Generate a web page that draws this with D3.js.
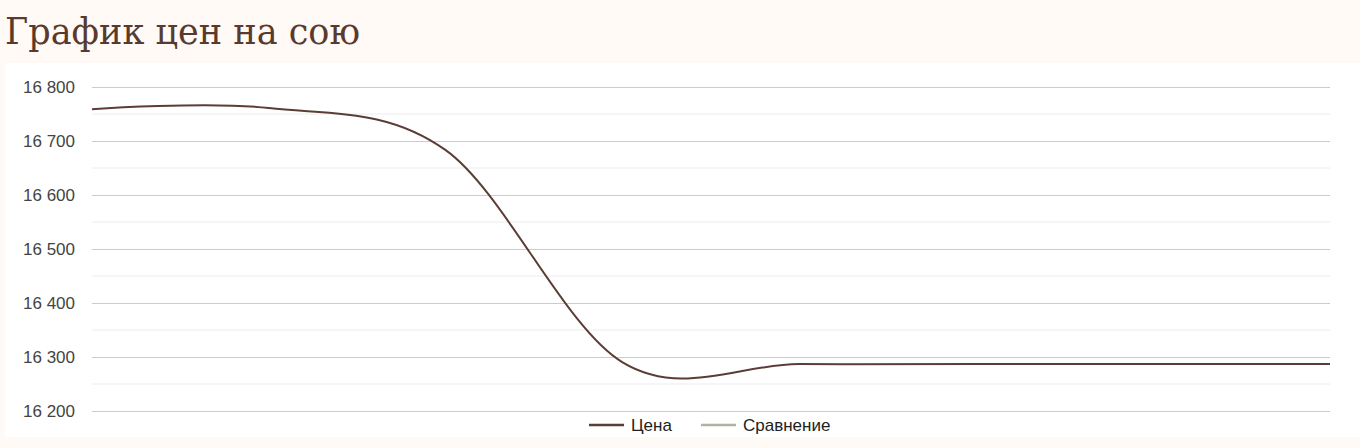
<!DOCTYPE html>
<html>
<head>
<meta charset="utf-8">
<title>График цен на сою</title>
<script src="https://cdn.jsdelivr.net/npm/d3@7"></script>
<style>
  body { margin: 0; background: #fffaf6; }
  svg { display: block; }
</style>
</head>
<body>
<script>
// data
var categories = [0, 1, 2, 3, 4, 5, 6, 7];
var price = [16759, 16761, 16683, 16290, 16287, 16287, 16287, 16287];
var yTicks = [16200, 16300, 16400, 16500, 16600, 16700, 16800];
var yMinor = [16250, 16350, 16450, 16550, 16650, 16750];
var seriesNames = ["Цена", "Сравнение"];
var seriesColors = ["#5c3d36", "#b0b3a0"];

var w = 1360, h = 448;
var margin = {top: 87, right: 30, bottom: 37, left: 92};

var svg = d3.select("body").append("svg")
  .attr("width", w)
  .attr("height", h);

// title
var title = svg.append("text")
  .attr("x", 5)
  .attr("y", 44)
  .attr("fill", "#5a3a2e")
  .style("font-family", "'Roboto Slab', 'DejaVu Serif', serif")
  .style("font-size", "38px")
  .text("График цен на сою");
var tl = title.node().getComputedTextLength();
if (tl > 0) title.attr("textLength", 355).attr("lengthAdjust", "spacingAndGlyphs");

// white panel
svg.append("rect")
  .attr("x", 5).attr("y", 63)
  .attr("width", w - 5).attr("height", 374)
  .attr("fill", "#ffffff");

var x = d3.scaleLinear()
  .domain(d3.extent(categories))
  .range([margin.left, w - margin.right]);
var y = d3.scaleLinear()
  .domain([16200, 16800])
  .range([h - margin.bottom, margin.top]);

// minor grid
svg.append("g").selectAll("line").data(yMinor).enter().append("line")
  .attr("x1", margin.left).attr("x2", w - margin.right)
  .attr("y1", d => y(d)).attr("y2", d => y(d))
  .attr("stroke", "#ececec").attr("stroke-width", 1);

// major grid + labels via axis
var yAxis = d3.axisLeft(y)
  .tickValues(yTicks)
  .tickSize(-(w - margin.left - margin.right))
  .tickPadding(17)
  .tickFormat(d => d3.format(",")(d).replace(",", " "));
var gy = svg.append("g")
  .attr("transform", `translate(${margin.left},0)`)
  .call(yAxis);
gy.select(".domain").remove();
gy.selectAll(".tick line").attr("stroke", "#cccccc");
gy.selectAll(".tick text")
  .attr("fill", "#444444")
  .style("font-family", "Arial, 'Liberation Sans', sans-serif")
  .style("font-size", "17px");

// price line
var line = d3.line()
  .x((d, i) => x(categories[i]))
  .y(d => y(d))
  .curve(d3.curveCardinal.tension(0));
svg.append("path")
  .datum(price)
  .attr("d", line)
  .attr("fill", "none")
  .attr("stroke", seriesColors[0])
  .attr("stroke-width", 2);

// legend
var legendX = [589, 701];
var legend = svg.append("g").selectAll("g").data(seriesNames).enter().append("g")
  .attr("transform", (d, i) => `translate(${legendX[i]},425)`);
legend.append("line")
  .attr("x1", 0).attr("x2", 35)
  .attr("stroke", (d, i) => seriesColors[i])
  .attr("stroke-width", 2.5);
legend.append("text")
  .attr("x", 42).attr("dy", "0.35em")
  .attr("fill", "#222222")
  .style("font-family", "Arial, 'Liberation Sans', sans-serif")
  .style("font-size", "17px")
  .text(d => d);
</script>
</body>
</html>
